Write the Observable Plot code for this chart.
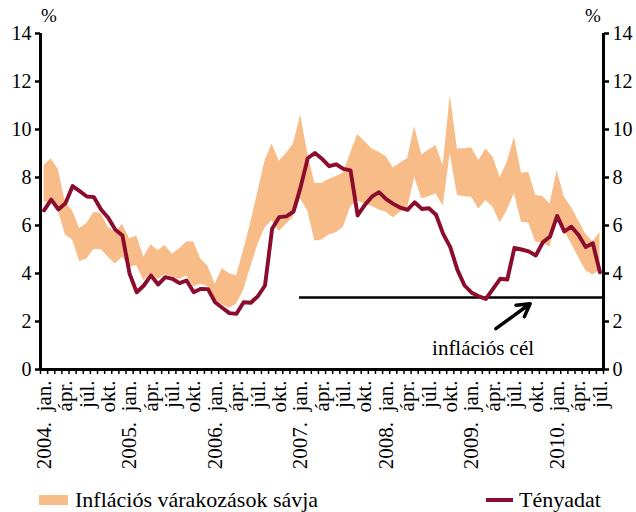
<!DOCTYPE html>
<html>
<head>
<meta charset="utf-8">
<script src="https://cdn.jsdelivr.net/npm/d3@7"></script>
<script src="https://cdn.jsdelivr.net/npm/@observablehq/plot@0.6"></script>
<style>
  html, body { margin: 0; padding: 0; background: #fff; }
  #wrap { position: relative; width: 636px; height: 512px; font-family: "Liberation Serif", "DejaVu Serif", serif; color: #000; overflow: hidden; }
  #chart { position: absolute; left: 0; top: 0; }
  .abs { position: absolute; white-space: nowrap; line-height: 22px; }
</style>
</head>
<body>
<div id="wrap">
  <div id="chart"></div>
  <div class="abs" style="left:41px; top:5px; font-size:19px;">%</div>
  <div class="abs" style="left:585px; top:5px; font-size:19px;">%</div>
  <div class="abs" style="left:39px; top:495px; width:29px; height:10px; background:#F8BC88;"></div>
  <div class="abs" id="legBand" style="left:75px; top:489px; font-size:22px;"></div>
  <div class="abs" style="left:486px; top:498px; width:27px; height:4px; background:#8B0C2C;"></div>
  <div class="abs" id="legLine" style="left:519px; top:489px; font-size:22px;"></div>
</div>
<script>
// ---- data ----
const startYear = 2004;
const monthNames = ["jan.", "febr.", "márc.", "ápr.", "máj.", "jún.", "júl.", "aug.", "szept.", "okt.", "nov.", "dec."];
const seriesNames = ["Inflációs várakozások sávja", "Tényadat"];
const targetLabel = "inflációs cél";
const targetValue = 3;
const targetStartMonth = 36; // 2007. jan.
const yTicks = [0, 2, 4, 6, 8, 10, 12, 14];

// actual inflation (Tényadat), monthly 2004 jan – 2010 jul
const actual = [
  6.63, 7.08, 6.67, 6.93, 7.64, 7.43, 7.21, 7.18, 6.67, 6.32, 5.82, 5.58,
  3.99, 3.22, 3.50, 3.92, 3.54, 3.85, 3.78, 3.60, 3.71, 3.22, 3.36, 3.35,
  2.80, 2.57, 2.35, 2.32, 2.80, 2.78, 3.05, 3.50, 5.86, 6.35, 6.38, 6.58,
  7.60, 8.80, 9.02, 8.78, 8.47, 8.55, 8.36, 8.30, 6.42, 6.85, 7.20, 7.39,
  7.10, 6.90, 6.74, 6.65, 6.97, 6.69, 6.72, 6.45, 5.65, 5.10, 4.15, 3.50,
  3.20, 3.05, 2.94, 3.36, 3.78, 3.75, 5.07, 5.00, 4.92, 4.75, 5.30, 5.54,
  6.40, 5.75, 5.95, 5.60, 5.10, 5.26, 4.05
];
// expectation band: lower edge
const bandLow = [
  6.97, 7.00, 6.60, 5.60, 5.40, 4.50, 4.60, 5.00, 5.00, 4.68, 4.40, 4.68,
  4.26, 4.33, 3.70, 4.00, 3.75, 3.95, 3.85, 3.75, 3.90, 3.45, 3.55, 3.45,
  2.90, 2.70, 2.55, 2.72, 3.29, 4.26, 5.20, 5.90, 6.20, 5.75, 6.05, 6.35,
  7.10, 6.60, 5.35, 5.40, 5.60, 5.70, 5.93, 6.76, 7.02, 6.90, 6.80, 6.65,
  6.55, 6.32, 6.55, 6.69, 8.00, 7.11, 7.20, 7.32, 6.80, 9.00, 7.25, 7.20,
  7.18, 6.69, 7.04, 6.76, 6.10, 6.63, 7.32, 6.14, 6.10, 5.31, 5.26, 5.10,
  6.35, 5.79, 5.24, 4.68, 4.13, 3.94, 4.13
];
// expectation band: upper edge
const bandHigh = [
  8.50, 8.78, 8.33, 6.95, 6.60, 5.87, 6.08, 6.54, 6.50, 5.93, 5.72, 6.04,
  5.45, 5.56, 4.68, 5.20, 4.96, 5.17, 4.80, 5.03, 5.31, 5.31, 4.60, 4.30,
  3.55, 4.20, 4.00, 3.90, 4.96, 6.10, 7.40, 8.70, 9.40, 8.68, 9.00, 9.40,
  10.60, 9.00, 7.75, 7.75, 7.93, 8.04, 8.18, 9.00, 9.79, 9.50, 9.20, 9.05,
  8.87, 8.40, 8.60, 8.78, 10.13, 8.94, 9.15, 9.33, 8.50, 11.42, 9.19, 9.20,
  9.24, 8.71, 9.19, 8.85, 8.00, 8.64, 9.68, 8.18, 8.22, 7.25, 7.21, 6.90,
  8.29, 7.18, 6.76, 6.20, 5.65, 5.31, 5.72
];
// annotation arrow (month index, %)
const arrowFrom = {x: 63.4, y: 1.70};
const arrowTo = {x: 68.2, y: 2.74};
const labelPos = {x: 61.6, y: 0.9};

// ---- build ----
const n = actual.length;
const data = actual.map((v, i) => ({i, actual: v, lo: bandLow[i], hi: bandHigh[i]}));
const boundaries = d3.range(n + 1).map(k => k - 0.5);
const quarterLabels = d3.range(n).filter(i => i % 3 === 0).map(i => {
  const y = startYear + Math.floor(i / 12), m = i % 12;
  return {i, text: m === 0 ? `${y}.\u2002${monthNames[0]}` : monthNames[m]};
});

const red = "#8B0C2C";
const orange = "#F8BC88";

const chart = Plot.plot({
  width: 636,
  height: 480,
  marginLeft: 40,
  marginRight: 33,
  marginTop: 33,
  marginBottom: 111,
  x: {type: "linear", domain: [-0.5, n - 0.5], axis: null},
  y: {domain: [0, 14], axis: null},
  style: {fontFamily: "Liberation Serif, serif", fontSize: "20px", color: "#000", background: "#fff"},
  marks: [
    Plot.areaY(data, {x: "i", y1: "lo", y2: "hi", fill: orange, fillOpacity: 1}),
    Plot.ruleY([targetValue], {x1: targetStartMonth - 0.15, x2: n - 0.5, stroke: "#000", strokeWidth: 2.3}),
    Plot.lineY(data, {x: "i", y: "actual", stroke: red, strokeWidth: 3.9, strokeLinejoin: "round"}),
    Plot.arrow([{x1: arrowFrom.x, y1: arrowFrom.y, x2: arrowTo.x, y2: arrowTo.y}], {
      x1: "x1", y1: "y1", x2: "x2", y2: "y2", stroke: "#000", strokeWidth: 3.5, headLength: 11
    }),
    Plot.text([labelPos], {x: "x", y: "y", text: () => targetLabel, fontSize: 21, fill: "#000", textAnchor: "middle"}),
    // axes
    Plot.ruleY([0], {stroke: "#000", strokeWidth: 3}),
    Plot.ruleX([-0.5, n - 0.5], {y1: 0, y2: 14, stroke: "#000", strokeWidth: 3}),
    Plot.axisY({anchor: "left", ticks: yTicks, tickSize: 5, tickPadding: 4, fontSize: 20, strokeWidth: 2.5, label: null}),
    Plot.axisY({anchor: "right", ticks: yTicks, tickSize: 5, tickPadding: 4, fontSize: 20, strokeWidth: 2.5, label: null}),
    Plot.axisX({anchor: "bottom", ticks: boundaries, tickSize: 5, tickFormat: () => "", strokeWidth: 1.5, label: null}),
    Plot.text(quarterLabels, {x: "i", y: 0, text: "text", rotate: -90, textAnchor: "end", dy: 11, fontSize: 21, fill: "#000"})
  ]
});
document.getElementById("chart").appendChild(chart);
document.getElementById("legBand").textContent = seriesNames[0];
document.getElementById("legLine").textContent = seriesNames[1];
</script>
</body>
</html>
